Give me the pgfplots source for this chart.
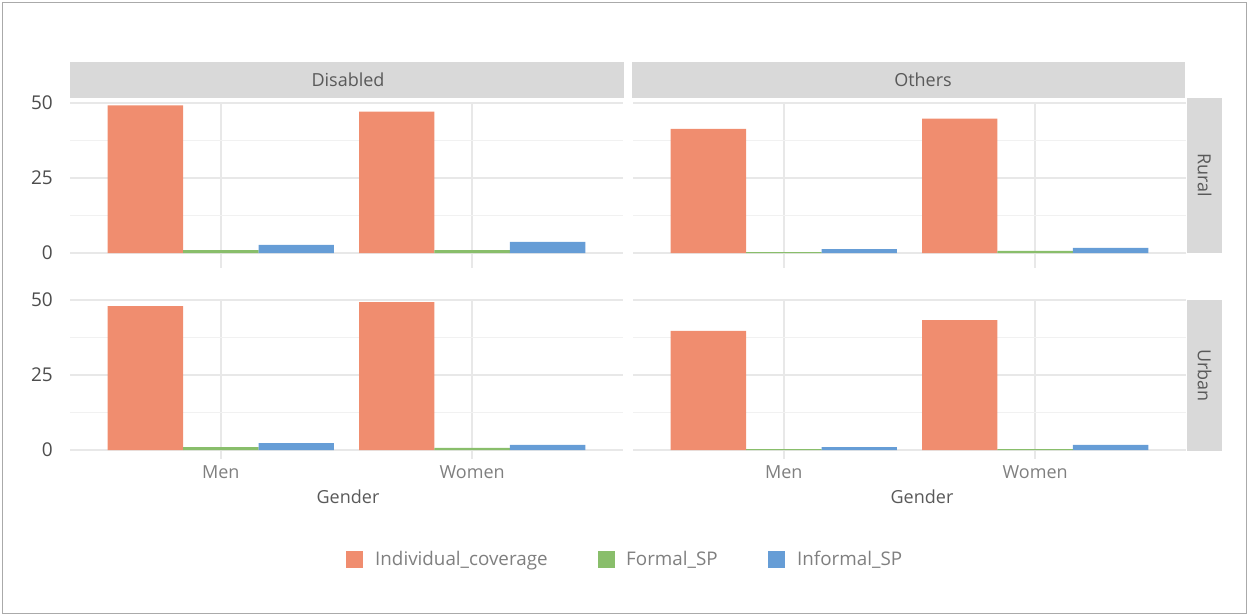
\documentclass[border=0pt]{standalone}
\usepackage{fontspec}
\setmainfont{Open Sans}
\usepackage{pgfplots}
\pgfplotsset{compat=1.18}
\definecolor{cInd}{RGB}{240,141,111}
\definecolor{cFor}{RGB}{137,190,107}
\definecolor{cInf}{RGB}{102,157,214}
\definecolor{stripc}{RGB}{217,217,217}
\definecolor{gridc}{RGB}{232,232,232}
\definecolor{gridm}{RGB}{241,241,241}
\definecolor{txtd}{RGB}{77,77,77}
\definecolor{txtm}{RGB}{89,89,89}
\definecolor{txtl}{RGB}{127,127,127}
\definecolor{framec}{RGB}{170,170,170}
\pgfplotsset{
 panel/.style={
  scale only axis, width=553pt, xmin=0.4, xmax=2.6, ymax=50,
  axis line style={draw=none}, major tick length=0pt, minor tick length=0pt,
  xtick={1,2}, ytick={0,25,50}, minor ytick={12.5,37.5},
  grid=both, major grid style={draw=gridc, line width=1.4pt},
  minor grid style={draw=gridm, line width=1.1pt},
  ybar, bar width=0.3,
  tick label style={font=\fontsize{18}{21}\selectfont},
  /pgf/number format/assume math mode=true,
  xticklabels={}, yticklabels={},
  clip=false,
 },
 toprow/.style={height=165pt, ymin=-5},
 botrow/.style={height=159pt, ymin=-3, xticklabels={Men,Women},
   xticklabel style={text=txtl, anchor=north, inner sep=0pt, yshift=-6.5pt}},
 leftcol/.style={yticklabels={0,25,50},
   yticklabel style={text=txtd, anchor=east, inner sep=0pt, xshift=-17pt, font=\fontsize{19}{22}\selectfont}},
 pInd/.style={fill=cInd, draw=none, bar shift=-0.3},
 pFor/.style={fill=cFor, draw=none, bar shift=0},
 pInf/.style={fill=cInf, draw=none, bar shift=0.3},
}
\begin{document}
\begin{tikzpicture}[x=1pt,y=1pt]
\useasboundingbox (0,0) rectangle (1248,-615);
\draw[framec, line width=1.5pt] (2.5,-2.5) rectangle (1246.5,-613.5);

% Disabled - Rural
\begin{axis}[panel, toprow, leftcol, at={(70pt,-268pt)}, anchor=south west]
\addplot[pInd] coordinates {(1,49.2) (2,47.1)};
\addplot[pFor] coordinates {(1,1.0) (2,1.0)};
\addplot[pInf] coordinates {(1,2.7) (2,3.7)};
\end{axis}
% Others - Rural
\begin{axis}[panel, toprow, at={(633pt,-268pt)}, anchor=south west]
\addplot[pInd] coordinates {(1,41.4) (2,44.8)};
\addplot[pFor] coordinates {(1,0.3) (2,0.7)};
\addplot[pInf] coordinates {(1,1.3) (2,1.7)};
\end{axis}
% Disabled - Urban
\begin{axis}[panel, botrow, leftcol, at={(70pt,-459pt)}, anchor=south west]
\addplot[pInd] coordinates {(1,48.0) (2,49.3)};
\addplot[pFor] coordinates {(1,1.0) (2,0.7)};
\addplot[pInf] coordinates {(1,2.3) (2,1.7)};
\end{axis}
% Others - Urban
\begin{axis}[panel, botrow, at={(633pt,-459pt)}, anchor=south west]
\addplot[pInd] coordinates {(1,39.7) (2,43.3)};
\addplot[pFor] coordinates {(1,0.3) (2,0.3)};
\addplot[pInf] coordinates {(1,1.0) (2,1.7)};
\end{axis}

% strips
\fill[stripc] (70,-62) rectangle (624,-98);
\fill[stripc] (632,-62) rectangle (1185,-98);
\fill[stripc] (1187,-98) rectangle (1222,-253);
\fill[stripc] (1187,-300) rectangle (1222,-451);
\begin{scope}[every node/.style={text=txtm, font=\fontsize{18}{21}\selectfont, inner sep=0pt}]
\node at (348,-80) {Disabled};
\node at (923,-80) {Others};
\node[rotate=-90] at (1204.5,-175.5) {Rural};
\node[rotate=-90] at (1204.5,-375.5) {Urban};
\node at (348,-497) {Gender};
\node at (922,-497) {Gender};
\end{scope}

% legend
\begin{scope}[every node/.style={text=txtl, font=\fontsize{18.8}{21}\selectfont, inner sep=0pt, anchor=base west}]
\fill[cInd] (346,-550.5) rectangle (363,-567.5);
\node at (375,-565.8) {Individual\_coverage};
\fill[cFor] (598,-550.5) rectangle (615,-567.5);
\node at (626,-565.8) {Formal\_SP};
\fill[cInf] (768,-550.5) rectangle (785,-567.5);
\node at (797,-565.8) {Informal\_SP};
\end{scope}
\end{tikzpicture}
\end{document}
